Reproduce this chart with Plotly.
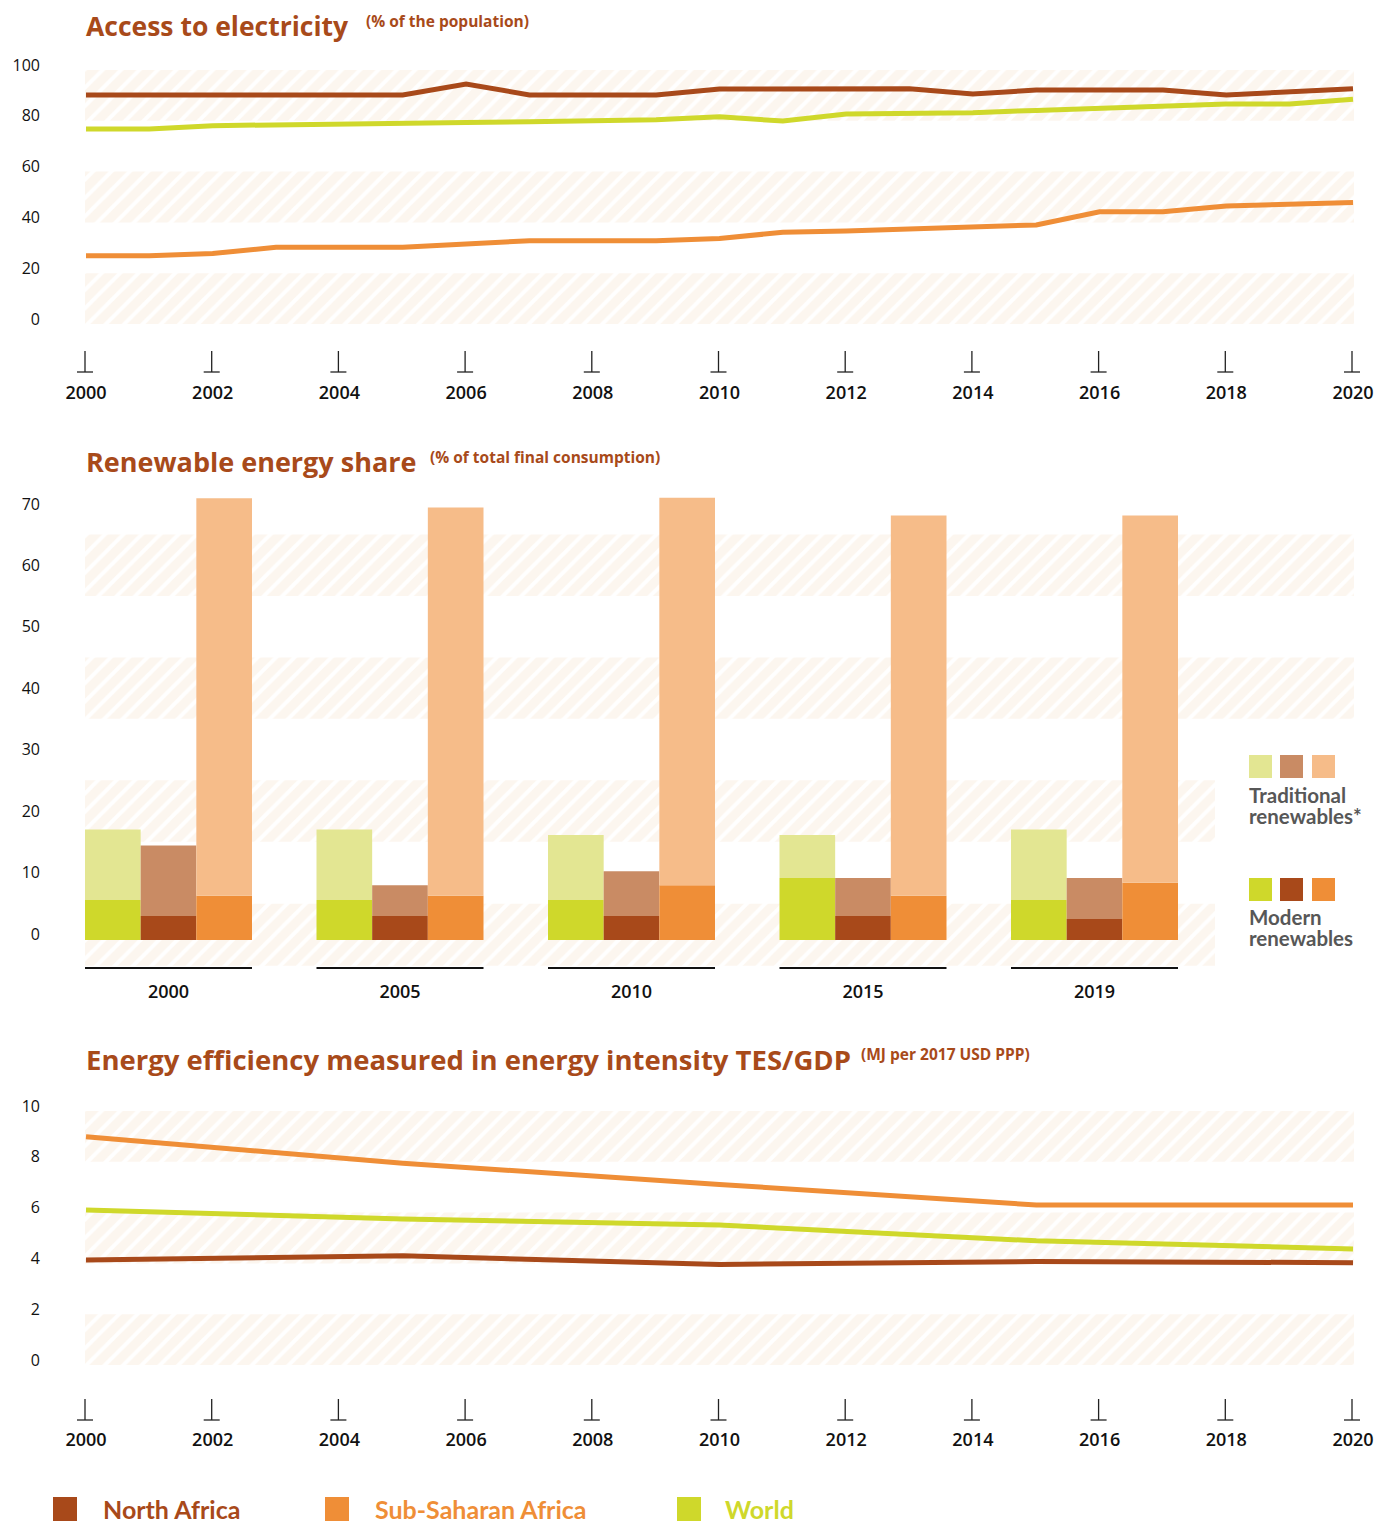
import plotly.graph_objects as go

W, H = 1386, 1523
OFF = 8  # page body margin, compensated so the figure lands on the reference pixels

# ---------------- data ----------------
years = list(range(2000, 2021))
tick_years = list(range(2000, 2021, 2))

elec_north_africa = [90.2, 90.2, 90.2, 90.2, 90.2, 90.2, 94.5, 90.2, 90.2, 90.2, 92.5,
                     92.4, 92.4, 92.6, 90.6, 92.1, 92.1, 92.1, 90.2, 91.2, 92.6]
elec_world = [76.8, 76.8, 78.1, 78.3, 78.6, 78.9, 79.3, 79.6, 80.0, 80.4, 81.6,
              79.9, 82.7, 83.0, 83.2, 84.1, 84.9, 85.7, 86.6, 86.6, 88.5]
elec_ssa = [26.9, 26.9, 27.8, 30.2, 30.2, 30.2, 31.5, 32.8, 32.8, 32.8, 33.7,
            36.1, 36.6, 37.3, 38.1, 39.0, 44.2, 44.2, 46.5, 47.2, 47.8]
elec_ticks = [0, 20, 40, 60, 80, 100]

ren_years = ["2000", "2005", "2010", "2015", "2019"]
ren_world_modern = [6.5, 6.5, 6.5, 10.1, 6.5]
ren_world_trad = [11.5, 11.5, 10.6, 7.0, 11.5]
ren_na_modern = [3.9, 3.9, 3.9, 3.9, 3.4]
ren_na_trad = [11.5, 5.0, 7.3, 6.2, 6.7]
ren_ssa_modern = [7.2, 7.2, 8.9, 7.2, 9.3]
ren_ssa_trad = [64.7, 63.2, 63.1, 61.9, 59.8]
ren_ticks = [0, 10, 20, 30, 40, 50, 60, 70]

eff_years = [2000, 2005, 2010, 2015, 2020]
eff_ssa = [8.99, 7.94, 7.11, 6.30, 6.30]
eff_world = [6.10, 5.75, 5.51, 4.89, 4.57]
eff_na = [4.13, 4.30, 3.96, 4.07, 4.03]
eff_ticks = [0, 2, 4, 6, 8, 10]

# ---------------- style ----------------
C_NA = "#A8491A"
C_SSA = "#EF8E37"
C_W = "#CFD82B"
L_NA = "#C98B64"
L_SSA = "#F6BC89"
L_W = "#E3E692"
C_TITLE = "#A84A1A"
C_BAND = "#FAEEDF"
C_GREY = "#575757"
FONT = "Open Sans"
LEG_FONT = "Lato"


def px(x):
    return (x - OFF) / W


def py(y):
    return 1 - (y - OFF) / H


def lin_range(lo_px, hi_px, p0, v0, p1, v1):
    k = (v1 - v0) / (p1 - p0)
    return [v0 + (lo_px - p0) * k, v0 + (hi_px - p0) * k]


fig = go.Figure()


def band_trace(xa, ya, spans):
    xs, ys = [], []
    for x0, x1, lo, hi in spans:
        xs += [x0, x1, x1, x0, x0, None]
        ys += [lo, lo, hi, hi, lo, None]
    return go.Scatter(x=xs, y=ys, mode="lines", fill="toself", line=dict(width=0),
                      fillcolor="rgba(255,255,255,0)",
                      fillpattern=dict(shape="/", fgcolor=C_BAND, bgcolor="white",
                                       size=13, solidity=0.7),
                      xaxis=xa, yaxis=ya, hoverinfo="skip", showlegend=False)


# ---------- panel 1 ----------
YEAR_PX0, YEAR_PX1 = 86, 1353
x1r = lin_range(85, 1354, YEAR_PX0, 2000, YEAR_PX1, 2020)
y1r = lin_range(330, 60, 324, 0, 70, 100)
fig.add_trace(band_trace("x", "y", [(x1r[0], x1r[1], 0, 20), (x1r[0], x1r[1], 40, 60),
                                    (x1r[0], x1r[1], 80, 100)]))
for vals, col in [(elec_ssa, C_SSA), (elec_world, C_W), (elec_north_africa, C_NA)]:
    fig.add_trace(go.Scatter(x=years, y=vals, mode="lines", line=dict(color=col, width=5),
                             xaxis="x", yaxis="y", showlegend=False))

# ---------- panel 2 ----------
bargap = 1 - 167 / 231.5
x2r = lin_range(85, 1354, 168.5, 0, 400, 1)
y2r = lin_range(975, 490, 940, 0, 510, 70)
x_leg = lin_range(85, 1215, 168.5, 0, 400, 1)[1]
fig.add_trace(band_trace("x2", "y2", [(x2r[0], x2r[1], 56, 66), (x2r[0], x2r[1], 36, 46),
                                      (x2r[0], x_leg, 16, 26), (x2r[0], x_leg, -4.2, 5.9)]))
idx = list(range(len(ren_years)))
for name, mod, trad, cm, cl in [("W", ren_world_modern, ren_world_trad, C_W, L_W),
                                ("NA", ren_na_modern, ren_na_trad, C_NA, L_NA),
                                ("SSA", ren_ssa_modern, ren_ssa_trad, C_SSA, L_SSA)]:
    fig.add_trace(go.Bar(x=idx, y=mod, offsetgroup=name, marker=dict(color=cm, line=dict(width=0)),
                         xaxis="x4", yaxis="y4", showlegend=False))
    fig.add_trace(go.Bar(x=idx, y=trad, base=mod, offsetgroup=name,
                         marker=dict(color=cl, line=dict(width=0)),
                         xaxis="x4", yaxis="y4", showlegend=False))

# ---------- panel 3 ----------
y3r = lin_range(1375, 1100, 1365, 0, 1111, 10)
fig.add_trace(band_trace("x3", "y3", [(x1r[0], x1r[1], 0, 2), (x1r[0], x1r[1], 4, 6),
                                      (x1r[0], x1r[1], 8, 10)]))
for vals, col in [(eff_ssa, C_SSA), (eff_world, C_W), (eff_na, C_NA)]:
    fig.add_trace(go.Scatter(x=eff_years, y=vals, mode="lines", line=dict(color=col, width=5),
                             xaxis="x3", yaxis="y3", showlegend=False))

axis_common = dict(showgrid=False, zeroline=False, showline=False, ticks="", fixedrange=True,
                   automargin=False)
xt_font = dict(family=FONT, size=18, color="#111", weight=600)
yt_font = dict(family=FONT, size=16, color="#111", weight=500)

fig.update_layout(
    width=W, height=H, margin=dict(l=0, r=0, t=0, b=0, pad=0, autoexpand=False),
    paper_bgcolor="white", plot_bgcolor="rgba(0,0,0,0)",
    barmode="group", bargap=bargap, bargroupgap=0,
    showlegend=False,
    xaxis=dict(domain=[px(85), px(1354)], range=x1r, tickvals=tick_years, tickfont=xt_font,
               anchor="y", ticklabelstandoff=50, **axis_common),
    yaxis=dict(domain=[py(330), py(60)], range=y1r, tickvals=elec_ticks, tickfont=yt_font,
               anchor="x", ticklabelstandoff=44, ticklabelshift=-5, **axis_common),
    xaxis2=dict(domain=[px(85), px(1354)], range=x2r, tickvals=idx, ticktext=ren_years,
                tickfont=xt_font, anchor="y2", ticklabelstandoff=4, **axis_common),
    yaxis2=dict(domain=[py(975), py(490)], range=y2r, tickvals=ren_ticks, tickfont=yt_font,
                anchor="x2", ticklabelstandoff=44, ticklabelshift=-6, **axis_common),
    xaxis4=dict(domain=[px(85), px(1354)], range=x2r, overlaying="x2", anchor="y4",
                showticklabels=False, **axis_common),
    yaxis4=dict(domain=[py(975), py(490)], range=y2r, overlaying="y2", anchor="x4",
                showticklabels=False, **axis_common),
    xaxis3=dict(domain=[px(85), px(1354)], range=x1r, tickvals=tick_years, tickfont=xt_font,
                anchor="y3", ticklabelstandoff=52, **axis_common),
    yaxis3=dict(domain=[py(1375), py(1100)], range=y3r, tickvals=eff_ticks, tickfont=yt_font,
                anchor="x3", ticklabelstandoff=44, ticklabelshift=-5, **axis_common),
)


def year_px(yr):
    return YEAR_PX0 + (yr - 2000) * (YEAR_PX1 - YEAR_PX0) / 20


shapes = []
# inverted-T tick marks
for top, bot in [(351, 372), (1399, 1420)]:
    for yr in tick_years:
        xp = year_px(yr) - 1
        shapes.append(dict(type="line", xref="paper", yref="paper", x0=px(xp), x1=px(xp),
                           y0=py(top), y1=py(bot), line=dict(color="#222", width=1.3)))
        shapes.append(dict(type="line", xref="paper", yref="paper", x0=px(xp - 8), x1=px(xp + 8),
                           y0=py(bot), y1=py(bot), line=dict(color="#222", width=1.3)))
# group underlines panel 2
half = (1 - bargap) / 2
for i in idx:
    shapes.append(dict(type="line", xref="x2", yref="paper", x0=i - half, x1=i + half,
                       y0=py(968), y1=py(968), line=dict(color="#111", width=1.8)))


def sq(x0, y0, size, col):
    return dict(type="rect", xref="paper", yref="paper", x0=px(x0), x1=px(x0 + size),
                y0=py(y0 + size), y1=py(y0), fillcolor=col, line=dict(width=0))


for x0, col in [(1249, L_W), (1280, L_NA), (1312, L_SSA)]:
    shapes.append(sq(x0, 755, 23, col))
for x0, col in [(1249, C_W), (1280, C_NA), (1312, C_SSA)]:
    shapes.append(sq(x0, 878, 23, col))
for x0, col in [(53, C_NA), (325, C_SSA), (677, C_W)]:
    shapes.append(sq(x0, 1497, 24, col))
fig.update_layout(shapes=shapes)

ann = []


def text(x, y, s, size, col, fam=FONT, bold=True):
    ann.append(dict(x=px(x), y=py(y), xref="paper", yref="paper", xanchor="left",
                    yanchor="middle", showarrow=False, align="left",
                    text=("<b>%s</b>" % s) if bold else s,
                    font=dict(family=fam, size=size, color=col)))


text(84, 26, "Access to electricity", 26.5, C_TITLE)
text(364, 21, "(% of the population)", 15.5, C_TITLE)
text(84, 462, "Renewable energy share", 27, C_TITLE)
text(428, 457, "(% of total final consumption)", 15.5, C_TITLE)
text(84, 1059, "Energy efficiency measured in energy intensity TES/GDP", 27.5, C_TITLE)
text(859, 1054, "(MJ per 2017 USD PPP)", 15.5, C_TITLE)

text(1247, 795, "Traditional", 20.5, C_GREY, "Lato")
text(1247, 816, "renewables*", 20.5, C_GREY, "Lato")
text(1247, 917, "Modern", 20.5, C_GREY, "Lato")
text(1247, 938, "renewables", 20.5, C_GREY, "Lato")

text(101, 1509, "North Africa", 25, C_NA, LEG_FONT)
text(373, 1509, "Sub-Saharan Africa", 25, C_SSA, LEG_FONT)
text(723, 1509, "World", 25, C_W, LEG_FONT)

fig.update_layout(annotations=ann)

fig.write_html("out.html")
